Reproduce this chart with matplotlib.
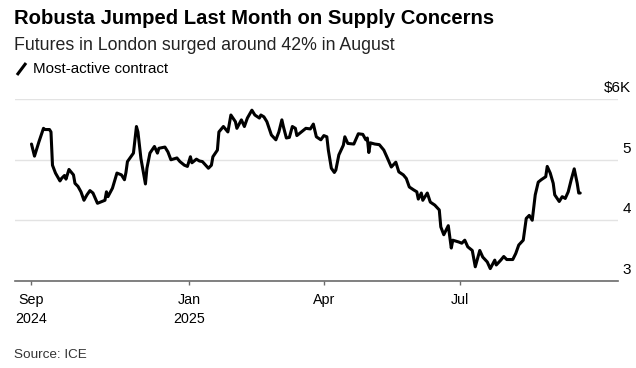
import matplotlib
matplotlib.use('Agg')
import matplotlib.pyplot as plt
from matplotlib.lines import Line2D
import pandas as pd

plt.rcParams['font.family'] = ['Liberation Sans', 'DejaVu Sans']

# ICE London robusta, most-active contract, $ thousands per ton
dates = [
    '2024-09-18', '2024-09-20', '2024-09-22', '2024-09-23', '2024-09-26', '2024-09-27', '2024-09-30',
    '2024-10-01', '2024-10-02', '2024-10-04', '2024-10-07', '2024-10-08', '2024-10-10', '2024-10-11',
    '2024-10-13', '2024-10-16', '2024-10-17', '2024-10-19', '2024-10-21', '2024-10-23', '2024-10-25',
    '2024-10-27', '2024-10-29', '2024-11-01', '2024-11-04', '2024-11-06', '2024-11-07', '2024-11-08',
    '2024-11-11', '2024-11-14', '2024-11-17', '2024-11-19', '2024-11-20', '2024-11-21', '2024-11-25',
    '2024-11-27', '2024-11-28', '2024-11-30', '2024-12-03', '2024-12-04', '2024-12-06', '2024-12-09',
    '2024-12-11', '2024-12-12', '2024-12-16', '2024-12-18', '2024-12-20', '2024-12-24', '2024-12-26',
    '2024-12-29', '2024-12-31', '2025-01-02', '2025-01-03', '2025-01-06', '2025-01-08', '2025-01-10',
    '2025-01-14', '2025-01-16', '2025-01-17', '2025-01-20', '2025-01-21', '2025-01-24', '2025-01-27',
    '2025-01-29', '2025-02-01', '2025-02-02', '2025-02-05', '2025-02-07', '2025-02-09', '2025-02-12',
    '2025-02-14', '2025-02-17', '2025-02-18', '2025-02-20', '2025-02-22', '2025-02-25', '2025-02-28',
    '2025-03-02', '2025-03-04', '2025-03-05', '2025-03-07', '2025-03-09', '2025-03-11', '2025-03-13',
    '2025-03-14', '2025-03-17', '2025-03-20', '2025-03-23', '2025-03-25', '2025-03-27', '2025-03-30',
    '2025-04-01', '2025-04-03', '2025-04-04', '2025-04-06', '2025-04-08', '2025-04-09', '2025-04-11',
    '2025-04-14', '2025-04-15', '2025-04-17', '2025-04-21', '2025-04-24', '2025-04-27', '2025-04-29',
    '2025-04-30', '2025-05-01', '2025-05-02', '2025-05-05', '2025-05-08', '2025-05-11', '2025-05-13',
    '2025-05-16', '2025-05-19', '2025-05-21', '2025-05-24', '2025-05-26', '2025-05-28', '2025-05-31',
    '2025-06-02', '2025-06-03', '2025-06-05', '2025-06-06', '2025-06-09', '2025-06-11', '2025-06-14',
    '2025-06-17', '2025-06-18', '2025-06-20', '2025-06-23', '2025-06-25', '2025-06-26', '2025-06-30',
    '2025-07-02', '2025-07-04', '2025-07-06', '2025-07-09', '2025-07-11', '2025-07-14', '2025-07-16',
    '2025-07-19', '2025-07-21', '2025-07-24', '2025-07-25', '2025-07-28', '2025-07-30', '2025-08-01',
    '2025-08-05', '2025-08-07', '2025-08-09', '2025-08-12', '2025-08-14', '2025-08-16', '2025-08-18',
    '2025-08-20', '2025-08-22', '2025-08-24', '2025-08-27', '2025-08-28', '2025-08-30', '2025-09-01',
    '2025-09-02', '2025-09-05', '2025-09-07', '2025-09-09', '2025-09-11', '2025-09-13', '2025-09-15',
    '2025-09-17', '2025-09-18', '2025-09-19',
]
prices = [
    5.26, 5.06, 5.22, 5.30, 5.52, 5.50, 5.50,
    5.46, 4.91, 4.78, 4.65, 4.69, 4.74, 4.68,
    4.84, 4.75, 4.61, 4.56, 4.47, 4.33, 4.42,
    4.49, 4.45, 4.28, 4.31, 4.33, 4.47, 4.39,
    4.53, 4.78, 4.75, 4.67, 4.79, 4.97, 5.11,
    5.55, 5.46, 5.02, 4.60, 4.86, 5.11, 5.22,
    5.11, 5.19, 5.21, 5.13, 5.00, 5.03, 4.97,
    4.91, 4.89, 5.05, 4.95, 5.01, 4.98, 4.97,
    4.86, 4.91, 5.05, 5.16, 5.46, 5.55, 5.46,
    5.74, 5.63, 5.52, 5.66, 5.55, 5.69, 5.82,
    5.74, 5.69, 5.74, 5.71, 5.63, 5.41, 5.33,
    5.46, 5.66, 5.55, 5.36, 5.37, 5.55, 5.52,
    5.40, 5.46, 5.52, 5.51, 5.59, 5.38, 5.33,
    5.40, 5.38, 5.16, 4.86, 4.79, 4.83, 5.08,
    5.24, 5.38, 5.27, 5.26, 5.43, 5.42, 5.33,
    5.36, 5.12, 5.28, 5.26, 5.25, 5.16, 5.05,
    4.88, 4.96, 4.80, 4.75, 4.69, 4.55, 4.50,
    4.47, 4.35, 4.45, 4.33, 4.45, 4.30, 4.25,
    4.17, 3.89, 3.76, 3.91, 3.54, 3.67, 3.64,
    3.62, 3.67, 3.56, 3.50, 3.23, 3.50, 3.39,
    3.31, 3.20, 3.34, 3.26, 3.34, 3.40, 3.35,
    3.35, 3.45, 3.59, 3.67, 4.03, 4.08, 4.00,
    4.42, 4.63, 4.67, 4.72, 4.89, 4.78, 4.61,
    4.42, 4.31, 4.39, 4.36, 4.47, 4.67, 4.85,
    4.61, 4.45, 4.45,
]

tick_dates = ['2024-09-18', '2025-01-01', '2025-04-01', '2025-07-01']
tick_labels = ['Sep\n2024', 'Jan\n2025', 'Apr', 'Jul']
y_ticks = [3, 4, 5, 6]
y_labels = ['3', '4', '5', '$6K']

df = pd.DataFrame({'date': pd.to_datetime(dates), 'price': prices})

fig = plt.figure(figsize=(6.36, 3.68), dpi=100)
W, H = 636, 368
ax = fig.add_axes([15 / W, 1 - 280.7 / H, (617.7 - 15) / W, (280.7 - 99.3) / H])

ax.plot(df['date'], df['price'], color='black', lw=2.2, solid_joinstyle='round',
        solid_capstyle='round', clip_on=False, zorder=3)

ax.set_xlim(pd.Timestamp('2024-09-07'), pd.Timestamp('2025-10-14'))
ax.set_ylim(3, 6)

for sp in ['top', 'right', 'left']:
    ax.spines[sp].set_visible(False)
ax.spines['bottom'].set_color('#6b6b6b')
ax.spines['bottom'].set_linewidth(1.2)

ax.set_yticks(y_ticks)
ax.yaxis.grid(True, color='#e3e3e3', lw=1.0)
ax.tick_params(axis='y', length=0, labelleft=False)
for y, lab in zip(y_ticks, y_labels):
    ax.annotate(lab, xy=(1, y), xycoords=ax.get_yaxis_transform(),
                xytext=(9.6, 3), textcoords='offset points',
                ha='right', va='bottom', fontsize=11, color='black')

ax.set_xticks(pd.to_datetime(tick_dates))
ax.set_xticklabels(tick_labels, fontsize=10.3, linespacing=1.45)
ax.tick_params(axis='x', length=3.2, width=1.0, color='#6b6b6b', pad=6)

fig.text(14 / W, 1 - 19 / H, 'Robusta Jumped Last Month on Supply Concerns',
         fontsize=14.6, fontweight='bold', va='center', ha='left')
fig.text(14 / W, 1 - 45 / H, 'Futures in London surged around 42% in August',
         fontsize=12.8, va='center', ha='left', color='#222222')
fig.add_artist(Line2D([17 / W, 26 / W], [1 - 75 / H, 1 - 63 / H], color='black',
                      lw=2.2, solid_capstyle='butt', transform=fig.transFigure))
fig.text(33 / W, 1 - 69 / H, 'Most-active contract', fontsize=10.9, va='center', ha='left')
fig.text(14 / W, 1 - 355 / H, 'Source: ICE', fontsize=9.7, va='center', ha='left',
         color='#333333')

fig.savefig('out.png', dpi=100)
